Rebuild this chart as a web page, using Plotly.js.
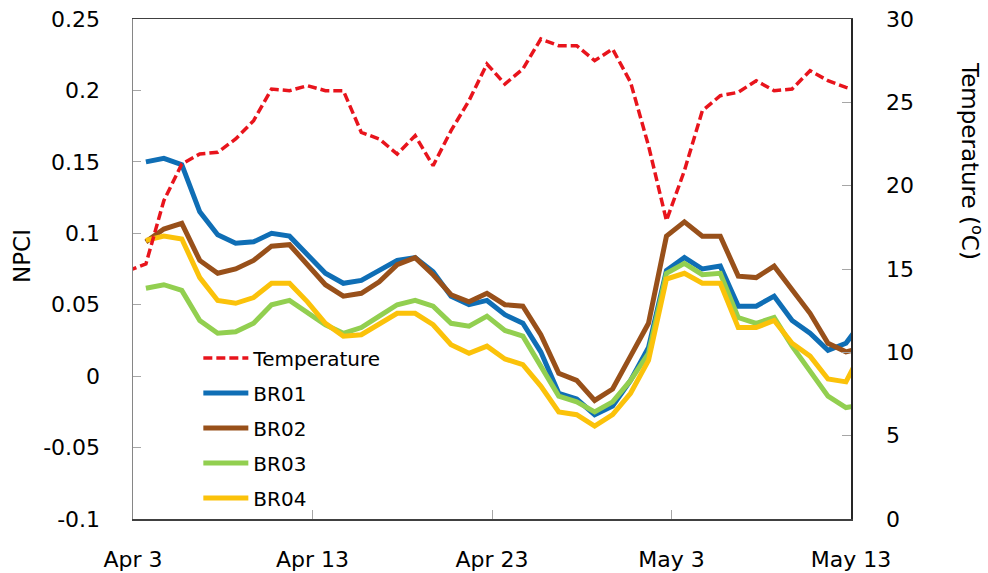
<!DOCTYPE html>
<html>
<head>
<meta charset="utf-8">
<script src="https://cdn.plot.ly/plotly-3.0.1.min.js"></script>
<style>
  html, body { margin: 0; padding: 0; background: #ffffff; }
  #chart { width: 988px; height: 573px; }
</style>
</head>
<body>
<div id="chart"></div>
<script>
// Daily readings (late afternoon), Apr 2 – May 13
const dates = [
  '2013-04-02 17:15', '2013-04-03 17:15', '2013-04-04 17:15', '2013-04-05 17:15', '2013-04-06 17:15',
  '2013-04-07 17:15', '2013-04-08 17:15', '2013-04-09 17:15', '2013-04-10 17:15', '2013-04-11 17:15',
  '2013-04-12 17:15', '2013-04-13 17:15', '2013-04-14 17:15', '2013-04-15 17:15', '2013-04-16 17:15',
  '2013-04-17 17:15', '2013-04-18 17:15', '2013-04-19 17:15', '2013-04-20 17:15', '2013-04-21 17:15',
  '2013-04-22 17:15', '2013-04-23 17:15', '2013-04-24 17:15', '2013-04-25 17:15', '2013-04-26 17:15',
  '2013-04-27 17:15', '2013-04-28 17:15', '2013-04-29 17:15', '2013-04-30 17:15', '2013-05-01 17:15',
  '2013-05-02 17:15', '2013-05-03 17:15', '2013-05-04 17:15', '2013-05-05 17:15', '2013-05-06 17:15',
  '2013-05-07 17:15', '2013-05-08 17:15', '2013-05-09 17:15', '2013-05-10 17:15', '2013-05-11 17:15',
  '2013-05-12 17:15', '2013-05-13 17:15'
];

// Air temperature (°C)
const temperature = [
  14.9, 15.3, 19.1, 21.3, 21.9, 22.0, 22.8, 23.9, 25.8, 25.7,
  26.0, 25.7, 25.7, 23.2, 22.8, 21.9, 23.0, 21.2, 23.3, 25.1,
  27.3, 26.1, 27.0, 28.8, 28.4, 28.4, 27.5, 28.2, 26.2, 22.4,
  17.9, 20.9, 24.5, 25.4, 25.6, 26.3, 25.7, 25.8, 26.9, 26.3,
  25.9, 25.6
];

// NPCI per plot
const br01 = [
  null, 0.150, 0.1525, 0.148, 0.115, 0.099, 0.093, 0.094, 0.100, 0.098,
  0.085, 0.072, 0.065, 0.067, 0.074, 0.081, 0.083, 0.073, 0.056, 0.050,
  0.053, 0.043, 0.037, 0.017, -0.012, -0.016, -0.027, -0.021, -0.003, 0.020,
  0.074, 0.083, 0.075, 0.077, 0.049, 0.049, 0.056, 0.039, 0.030, 0.018,
  0.023, 0.040
];
const br02 = [
  null, 0.094, 0.103, 0.107, 0.081, 0.072, 0.075, 0.081, 0.091, 0.092,
  0.078, 0.064, 0.056, 0.058, 0.066, 0.078, 0.083, 0.071, 0.057, 0.052,
  0.058, 0.050, 0.049, 0.029, 0.002, -0.003, -0.017, -0.009, 0.014, 0.037,
  0.098, 0.108, 0.098, 0.098, 0.070, 0.069, 0.077, 0.060, 0.044, 0.023,
  0.017, 0.020
];
const br03 = [
  null, 0.0615, 0.064, 0.060, 0.039, 0.030, 0.031, 0.037, 0.050, 0.053,
  0.044, 0.036, 0.030, 0.034, 0.042, 0.050, 0.053, 0.049, 0.037, 0.035,
  0.042, 0.032, 0.028, 0.007, -0.014, -0.018, -0.025, -0.018, -0.003, 0.016,
  0.072, 0.079, 0.071, 0.072, 0.041, 0.037, 0.041, 0.021, 0.004, -0.014,
  -0.022, -0.020
];
const br04 = [
  null, 0.095, 0.098, 0.096, 0.069, 0.053, 0.051, 0.055, 0.065, 0.065,
  0.052, 0.037, 0.028, 0.029, 0.037, 0.044, 0.044, 0.036, 0.022, 0.016,
  0.021, 0.012, 0.008, -0.007, -0.025, -0.027, -0.035, -0.027, -0.012, 0.011,
  0.068, 0.072, 0.065, 0.065, 0.034, 0.034, 0.039, 0.023, 0.014, -0.002,
  -0.004, 0.020
];

// Axis ticks
const xTickVals = ['2013-04-03', '2013-04-13', '2013-04-23', '2013-05-03', '2013-05-13'];
const xTickText = ['Apr 3', 'Apr 13', 'Apr 23', 'May 3', 'May 13'];
const npciTickVals = [-0.1, -0.05, 0, 0.05, 0.1, 0.15, 0.2, 0.25];
const npciTickText = ['-0.1', '-0.05', '0', '0.05', '0.1', '0.15', '0.2', '0.25'];
const tempTickVals = [0, 5, 10, 15, 20, 25, 30];
const tempTickText = ['0', '5', '10', '15', '20', '25', '30'];

const FONT = 'DejaVu Sans, sans-serif';

function npciTrace(name, values, color, rank) {
  return {
    type: 'scatter', mode: 'lines', name: name,
    x: dates, y: values, xaxis: 'x', yaxis: 'y',
    line: { color: color, width: 5 },
    legendgroup: name, legendrank: rank,
    connectgaps: false
  };
}

const traces = [
  npciTrace('BR01', br01, '#0F6EB5', 2),
  npciTrace('BR02', br02, '#98501A', 3),
  npciTrace('BR03', br03, '#92CF50', 4),
  npciTrace('BR04', br04, '#FBC20A', 5),
  {
    type: 'scatter', mode: 'lines', name: 'Temperature',
    x: dates, y: temperature, xaxis: 'x', yaxis: 'y2',
    line: { color: '#E8141C', width: 3.5, dash: '9px,4px' },
    legendgroup: 'Temperature', legendrank: 1
  }
];

const layout = {
  width: 988, height: 573,
  margin: { l: 133, r: 137, t: 19, b: 54, pad: 0 },
  paper_bgcolor: '#ffffff', plot_bgcolor: '#ffffff',
  font: { family: FONT, size: 22, color: '#000000' },
  showlegend: true,
  legend: {
    x: 0.091, y: 0.361, xanchor: 'left', yanchor: 'top',
    bgcolor: 'rgba(0,0,0,0)', borderwidth: 0,
    font: { family: FONT, size: 20, color: '#000000' },
    itemwidth: 45, tracegroupgap: 6, traceorder: 'grouped'
  },
  xaxis: {
    type: 'date',
    range: ['2013-04-03', '2013-05-13'],
    tickmode: 'array', tickvals: xTickVals, ticktext: xTickText,
    ticks: 'inside', ticklen: 9, tickcolor: '#a6a6a6', tickwidth: 1,
    showline: true, linecolor: '#404040', linewidth: 1.5, mirror: true,
    showgrid: false, zeroline: false,
    ticklabelstandoff: 20,
    tickfont: { family: FONT, size: 22, color: '#000000' }
  },
  yaxis: {
    range: [-0.1, 0.25],
    tickmode: 'array', tickvals: npciTickVals, ticktext: npciTickText,
    ticks: 'inside', ticklen: 8, tickcolor: '#a6a6a6', tickwidth: 1,
    showline: true, linecolor: '#868686', linewidth: 1.5,
    showgrid: false, zeroline: false,
    ticklabelstandoff: 27,
    tickfont: { family: FONT, size: 22, color: '#000000' }
  },
  yaxis2: {
    range: [0, 30], overlaying: 'y', side: 'right',
    tickmode: 'array', tickvals: tempTickVals, ticktext: tempTickText,
    ticks: 'inside', ticklen: 9, tickcolor: '#a6a6a6', tickwidth: 1,
    showline: true, linecolor: '#262626', linewidth: 1.5,
    showgrid: false, zeroline: false,
    ticklabelstandoff: 29,
    tickfont: { family: FONT, size: 22, color: '#000000' }
  },
  annotations: [
    {
      text: 'NPCI', xref: 'paper', yref: 'paper',
      x: -0.1546, y: 0.526, xanchor: 'center', yanchor: 'middle',
      textangle: -90, showarrow: false,
      font: { family: FONT, size: 23, color: '#000000' }
    },
    {
      text: 'Temperature (<sup>o</sup>C)', xref: 'paper', yref: 'paper',
      x: 1.1685, y: 0.716, xanchor: 'center', yanchor: 'middle',
      textangle: 90, showarrow: false,
      font: { family: FONT, size: 23, color: '#000000' }
    }
  ]
};

Plotly.newPlot('chart', traces, layout, { displayModeBar: false, staticPlot: true });
</script>
</body>
</html>
